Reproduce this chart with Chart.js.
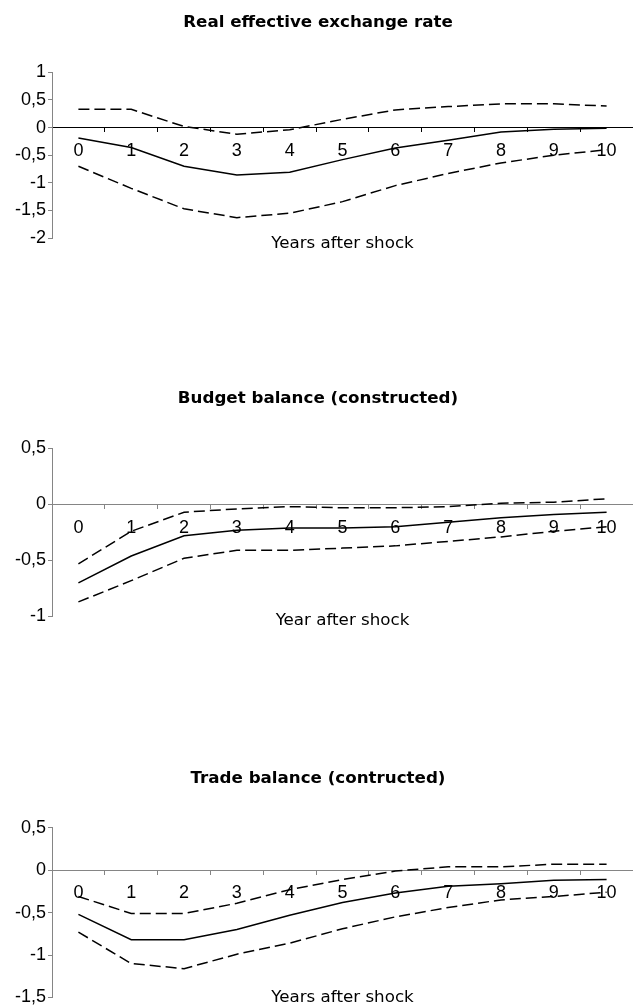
<!DOCTYPE html>
<html>
<head>
<meta charset="utf-8">
<script src="https://cdn.jsdelivr.net/npm/chart.js@4.4.1/dist/chart.umd.min.js"></script>
<style>
  html, body { margin: 0; padding: 0; background: #fff; overflow: hidden; width: 633px; height: 1008px; }
  canvas { position: absolute; left: 0; display: block; }
</style>
</head>
<body>
<canvas id="c1" width="633" height="270" style="top:0px"></canvas>
<canvas id="c2" width="633" height="300" style="top:340px"></canvas>
<canvas id="c3" width="633" height="320" style="top:700px"></canvas>
<script>
// ---- data ----
const years = ['0', '1', '2', '3', '4', '5', '6', '7', '8', '9', '10'];

const reerMid   = [-0.19, -0.36, -0.70, -0.86, -0.81, -0.58, -0.37, -0.23, -0.08, -0.03, -0.01];
const reerUpper = [0.33, 0.33, 0.02, -0.12, -0.04, 0.15, 0.32, 0.38, 0.43, 0.43, 0.39];
const reerLower = [-0.70, -1.10, -1.47, -1.63, -1.55, -1.34, -1.05, -0.83, -0.64, -0.50, -0.40];
const reerTicks = [1, 0.5, 0, -0.5, -1, -1.5, -2];

const budgetMid   = [-0.70, -0.46, -0.28, -0.23, -0.21, -0.21, -0.20, -0.16, -0.12, -0.09, -0.07];
const budgetUpper = [-0.53, -0.24, -0.07, -0.04, -0.02, -0.03, -0.03, -0.02, 0.01, 0.02, 0.05];
const budgetLower = [-0.87, -0.68, -0.48, -0.41, -0.41, -0.39, -0.37, -0.33, -0.29, -0.24, -0.20];
const budgetTicks = [0.5, 0, -0.5, -1];

const tradeMid   = [-0.52, -0.82, -0.82, -0.70, -0.53, -0.38, -0.27, -0.19, -0.16, -0.12, -0.11];
const tradeUpper = [-0.31, -0.51, -0.51, -0.39, -0.23, -0.11, -0.01, 0.04, 0.04, 0.07, 0.07];
const tradeLower = [-0.73, -1.10, -1.16, -0.99, -0.86, -0.69, -0.55, -0.44, -0.35, -0.31, -0.26];
const tradeTicks = [0.5, 0, -0.5, -1, -1.5];

const titles = ['Real effective exchange rate', 'Budget balance (constructed)', 'Trade balance (contructed)'];
const xTitles = ['Years after shock', 'Year after shock', 'Years after shock'];

// ---- chart builder ----
function makeChart(id, title, xTitle, mid, upper, lower, ticks, lay) {
  const tickFont = { family: 'Liberation Sans', size: 18 };
  const lineStyle = { borderColor: '#000', borderWidth: 1.5, pointRadius: 0, tension: 0, fill: false };
  new Chart(document.getElementById(id), {
    type: 'line',
    data: {
      labels: years,
      datasets: [
        Object.assign({ data: upper, borderDash: [11, 5] }, lineStyle),
        Object.assign({ data: mid }, lineStyle),
        Object.assign({ data: lower, borderDash: [11, 5] }, lineStyle)
      ]
    },
    options: {
      responsive: false,
      animation: false,
      devicePixelRatio: 1,
      layout: { padding: { left: 0, right: -3, top: 0, bottom: 0 } },
      plugins: {
        legend: { display: false },
        tooltip: { enabled: false },
        title: {
          display: true, text: title, color: '#000',
          font: { family: 'DejaVu Sans', size: 16.7, weight: 'bold', lineHeight: 1.2 },
          padding: { top: lay.tTop, bottom: lay.tBottom }
        },
        subtitle: {
          display: true, text: xTitle, color: '#000', position: 'bottom', fullSize: false,
          font: { family: 'DejaVu Sans', size: 16.7, weight: 'normal', lineHeight: 1 },
          padding: { top: lay.sTop, bottom: lay.sBottom }
        }
      },
      scales: {
        x: {
          type: 'category',
          position: { y: 0 },
          offset: true,
          grid: { offset: true, drawOnChartArea: false, drawTicks: true, tickLength: 4, color: lay.xColor },
          border: { display: true, color: lay.xColor, width: 1 },
          ticks: { color: '#000', font: tickFont, padding: 8.5, autoSkip: false, maxRotation: 0 }
        },
        y: {
          position: 'left',
          min: ticks[ticks.length - 1],
          max: ticks[0],
          afterFit: (s) => { s.width = 52; },
          afterBuildTicks: (s) => { s.ticks = ticks.map(v => ({ value: v })); },
          grid: { drawOnChartArea: false, drawTicks: true, tickLength: 4, color: '#858585' },
          border: { display: true, color: '#858585', width: 1 },
          ticks: {
            color: '#000', font: tickFont, padding: 2,
            callback: (v) => String(v).replace('.', ',')
          }
        }
      }
    }
  });
}

makeChart('c1', titles[0], xTitles[0], reerMid, reerUpper, reerLower, reerTicks,
  { tTop: 13.0, tBottom: 39.3, sTop: -2.95, sBottom: 18.15, xColor: '#000' });
makeChart('c2', titles[1], xTitles[1], budgetMid, budgetUpper, budgetLower, budgetTicks,
  { tTop: 49.0, tBottom: 39.3, sTop: -3.75, sBottom: 10.55, xColor: '#858585' });
makeChart('c3', titles[2], xTitles[2], tradeMid, tradeUpper, tradeLower, tradeTicks,
  { tTop: 69.0, tBottom: 38.7, sTop: -8.05, sBottom: 13.85, xColor: '#858585' });
</script>
</body>
</html>
